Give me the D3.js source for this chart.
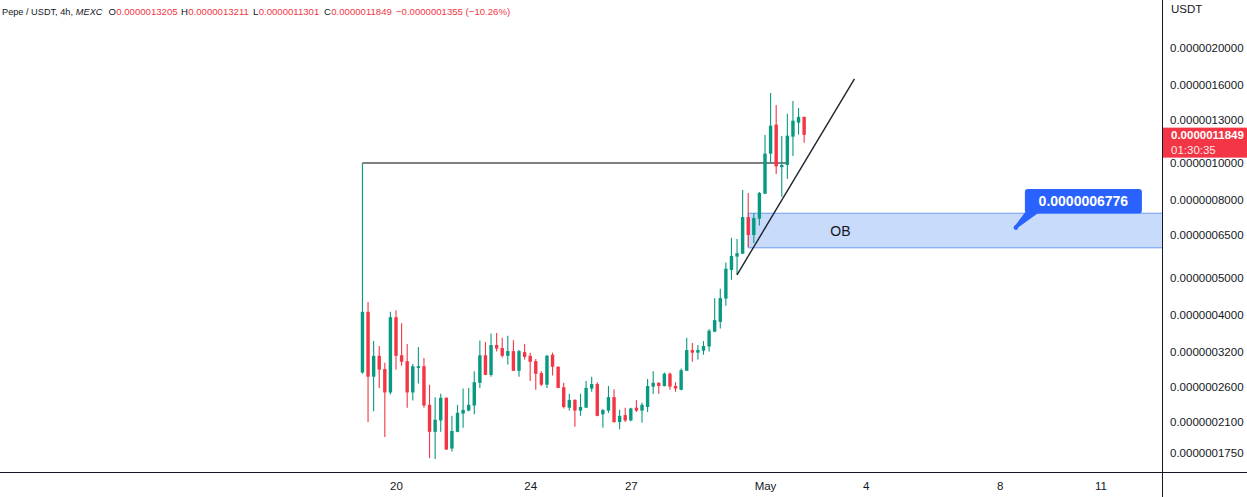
<!DOCTYPE html>
<html><head><meta charset="utf-8">
<script src="https://cdn.jsdelivr.net/npm/d3@7"></script>
<style>
html,body{margin:0;padding:0;background:#fff;}
svg{display:block;font-family:"Liberation Sans",Arial,sans-serif;}
</style>
</head><body>
<svg id="chart" width="1247" height="497"></svg>
<script>
// ---- data (Pepe / USDT, 4h candles, MEXC) ----
const firstCandle = "2023-04-19T00:00:00Z";
const candleHours = 4;
const opens  = [2.83e-7,4.08e-7,2.76e-7,3.13e-7,2.89e-7,2.51e-7,3.95e-7,3.14e-7,3.03e-7,2.51e-7,
                2.91e-7,2.94e-7,2.33e-7,1.98e-7,2.12e-7,2.43e-7,1.79e-7,1.98e-7,2.21e-7,2.25e-7,
                2.32e-7,2.66e-7,3.14e-7,2.79e-7,3.34e-7,3.28e-7,3.13e-7,3.22e-7,2.86e-7,3.20e-7,
                3.13e-7,3.03e-7,2.82e-7,2.63e-7,3.15e-7,2.93e-7,2.59e-7,2.29e-7,2.40e-7,2.25e-7,
                2.29e-7,2.57e-7,2.64e-7,2.20e-7,2.25e-7,2.44e-7,2.10e-7,2.19e-7,2.12e-7,2.29e-7,
                2.25e-7,2.30e-7,2.60e-7,2.66e-7,2.61e-7,2.81e-7,2.61e-7,2.55e-7,2.86e-7,3.24e-7,
                3.19e-7,3.23e-7,3.31e-7,3.62e-7,3.84e-7,4.42e-7,5.25e-7,5.69e-7,5.79e-7,7.22e-7,
                6.48e-7,7.15e-7,8.31e-7,10.58e-7,12.60e-7,9.75e-7,9.88e-7,11.72e-7,12.75e-7,13.205e-7];
const highs  = [10.0e-7,4.33e-7,3.42e-7,3.32e-7,3.00e-7,4.08e-7,4.12e-7,3.81e-7,3.36e-7,2.98e-7,
                3.30e-7,3.09e-7,2.63e-7,2.44e-7,2.49e-7,2.44e-7,2.18e-7,2.33e-7,2.57e-7,2.58e-7,
                2.85e-7,3.43e-7,3.40e-7,3.58e-7,3.59e-7,3.49e-7,3.53e-7,3.44e-7,3.24e-7,3.36e-7,
                3.19e-7,3.07e-7,2.85e-7,3.15e-7,3.19e-7,2.94e-7,2.66e-7,2.49e-7,2.41e-7,2.49e-7,
                2.69e-7,2.76e-7,2.67e-7,2.27e-7,2.61e-7,2.56e-7,2.26e-7,2.29e-7,2.29e-7,2.40e-7,
                2.36e-7,2.72e-7,2.85e-7,2.67e-7,2.83e-7,2.83e-7,2.67e-7,2.90e-7,3.49e-7,3.38e-7,
                3.34e-7,3.42e-7,3.68e-7,4.43e-7,4.69e-7,5.49e-7,6.37e-7,6.33e-7,8.50e-7,8.35e-7,
                7.40e-7,8.40e-7,11.84e-7,15.25e-7,14.18e-7,11.77e-7,13.46e-7,14.53e-7,13.93e-7,13.211e-7];
const lows   = [2.81e-7,2.10e-7,2.24e-7,2.58e-7,1.92e-7,2.48e-7,2.88e-7,2.95e-7,2.29e-7,2.39e-7,
                2.65e-7,2.29e-7,1.69e-7,1.68e-7,1.98e-7,1.775e-7,1.76e-7,1.975e-7,2.03e-7,2.24e-7,
                2.20e-7,2.58e-7,2.785e-7,2.76e-7,3.21e-7,3.10e-7,2.97e-7,2.855e-7,2.76e-7,3.06e-7,
                2.69e-7,2.55e-7,2.61e-7,2.58e-7,2.78e-7,2.575e-7,2.28e-7,2.25e-7,2.04e-7,2.18e-7,
                2.29e-7,2.52e-7,2.175e-7,2.03e-7,2.22e-7,2.09e-7,2.01e-7,2.10e-7,2.11e-7,2.23e-7,
                2.09e-7,2.23e-7,2.49e-7,2.49e-7,2.60e-7,2.55e-7,2.52e-7,2.545e-7,2.855e-7,3.02e-7,
                3.06e-7,3.15e-7,3.21e-7,3.61e-7,3.69e-7,4.23e-7,4.95e-7,5.10e-7,5.78e-7,6.03e-7,
                6.18e-7,6.86e-7,8.30e-7,10.02e-7,9.36e-7,8.16e-7,9.10e-7,10.43e-7,11.86e-7,11.301e-7];
const closes = [4.08e-7,2.76e-7,3.13e-7,2.88e-7,2.51e-7,3.95e-7,3.13e-7,3.02e-7,2.51e-7,2.94e-7,
                2.94e-7,2.32e-7,1.98e-7,2.13e-7,2.43e-7,1.78e-7,1.99e-7,2.22e-7,2.26e-7,2.33e-7,
                2.67e-7,3.14e-7,2.79e-7,3.34e-7,3.27e-7,3.13e-7,3.22e-7,2.86e-7,3.22e-7,3.11e-7,
                3.02e-7,2.81e-7,2.63e-7,3.13e-7,2.93e-7,2.58e-7,2.30e-7,2.40e-7,2.25e-7,2.30e-7,
                2.58e-7,2.64e-7,2.18e-7,2.26e-7,2.44e-7,2.10e-7,2.18e-7,2.12e-7,2.28e-7,2.25e-7,
                2.33e-7,2.61e-7,2.66e-7,2.61e-7,2.81e-7,2.60e-7,2.57e-7,2.87e-7,3.24e-7,3.19e-7,
                3.24e-7,3.32e-7,3.64e-7,3.88e-7,4.43e-7,5.29e-7,5.71e-7,5.81e-7,7.22e-7,6.48e-7,
                7.18e-7,8.35e-7,10.58e-7,12.52e-7,9.80e-7,9.88e-7,11.79e-7,12.90e-7,13.20e-7,11.849e-7];

const yTickValues = [2.0e-6,1.6e-6,1.3e-6,1.0e-6,8.0e-7,6.5e-7,5.0e-7,4.0e-7,3.2e-7,2.6e-7,2.1e-7,1.75e-7];
const xTickDates  = ["2023-04-20","2023-04-24","2023-04-27","2023-05-01","2023-05-04","2023-05-08","2023-05-11"];
const xTickLabels = ["20","24","27","May","4","8","11"];

// drawings
const hLine = {from:"2023-04-19T00:00:00Z", to:"2023-05-01T16:00:00Z", price:1.0e-6};
const trendLine = {t1:"2023-04-30T04:00:00Z", p1:5.10e-7, t2:"2023-05-03T16:00:00Z", p2:1.66e-6};
const obZone = {from:"2023-04-30T12:00:00Z", top:7.39e-7, bottom:6.00e-7, label:"OB", labelTime:"2023-05-03T06:00:00Z"};
const callout = {time:"2023-05-08T11:30:00Z", price:6.776e-7, text:"0.0000006776"};
const lastPrice = {price:1.1849e-6, text:"0.0000011849", countdown:"01:30:35"};

// legend groups: each group starts at x and its parts follow one another
const legend = [
  {x:2,   size:9.2, parts:[{t:"Pepe / USDT, 4h,\u00a0", c:"#131722"},{t:"MEXC", c:"#131722", italic:true}]},
  {x:108.5, size:9.6, parts:[{t:"O", c:"#131722"},{t:"0.0000013205", c:"#f23645"}]},
  {x:181, size:9.6, parts:[{t:"H", c:"#131722"},{t:"0.0000013211", c:"#f23645"}]},
  {x:253, size:9.6, parts:[{t:"L", c:"#131722"},{t:"0.0000011301", c:"#f23645"}]},
  {x:324, size:9.6, parts:[{t:"C", c:"#131722"},{t:"0.0000011849", c:"#f23645"}]},
  {x:396, size:9.6, parts:[{t:"\u22120.0000001355 (\u221210.26%)", c:"#f23645"}]}
];

// ---- layout ----
const W = 1247, H = 497, plotR = 1162, plotB = 472;
const GREEN = "#089981", RED = "#f23645", TXT = "#131722";

const svg = d3.select("#chart");
const x = d3.scaleUtc().domain([new Date("2023-04-20T00:00:00Z"), new Date("2023-05-01T00:00:00Z")]).range([396, 765]);
const y = d3.scaleLog().domain([1.5544e-7, 2.6697e-6]).range([plotB, 0]);

const t0 = new Date(firstCandle);
const candles = opens.map((o,i)=>({
  t: d3.utcHour.offset(t0, i*candleHours), o, h:highs[i], l:lows[i], c:closes[i]
}));

svg.append("defs").append("clipPath").attr("id","plot")
  .append("rect").attr("x",0).attr("y",0).attr("width",plotR).attr("height",plotB);

const plot = svg.append("g").attr("clip-path","url(#plot)");

// OB zone
const obTop = y(obZone.top), obBot = y(obZone.bottom), obX = x(new Date(obZone.from));
plot.append("rect").attr("x",obX).attr("y",obTop).attr("width",plotR + 10 - obX).attr("height",obBot-obTop)
  .attr("fill","#c9dbfb").attr("stroke","#6f9cf0").attr("stroke-width",1);
plot.append("text").attr("x",x(new Date(obZone.labelTime))).attr("y",(obTop+obBot)/2)
  .attr("text-anchor","middle").attr("dominant-baseline","central")
  .attr("font-size",14).attr("fill",TXT).text(obZone.label);

// horizontal line
plot.append("line")
  .attr("x1",x(new Date(hLine.from))).attr("x2",x(new Date(hLine.to)))
  .attr("y1",y(hLine.price)).attr("y2",y(hLine.price))
  .attr("stroke","#000").attr("stroke-width",1.2);

// candles
const bw = 3.4;
const cg = plot.append("g").selectAll("g").data(candles).join("g");
cg.append("line")
  .attr("x1",d=>x(d.t)).attr("x2",d=>x(d.t))
  .attr("y1",d=>y(d.h)).attr("y2",d=>y(d.l))
  .attr("stroke",d=>d.c>=d.o?GREEN:RED).attr("stroke-width",1.1);
cg.append("rect")
  .attr("x",d=>x(d.t)-bw/2).attr("width",bw)
  .attr("y",d=>y(Math.max(d.o,d.c)))
  .attr("height",d=>Math.max(1,Math.abs(y(d.o)-y(d.c))))
  .attr("fill",d=>d.c>=d.o?GREEN:RED);

// trend line
plot.append("line")
  .attr("x1",x(new Date(trendLine.t1))).attr("y1",y(trendLine.p1))
  .attr("x2",x(new Date(trendLine.t2))).attr("y2",y(trendLine.p2))
  .attr("stroke","#1e222d").attr("stroke-width",1.4);

// callout
const cx = x(new Date(callout.time)), cy = y(callout.price);
const cgp = plot.append("g");
cgp.append("path")
  .attr("d",`M${cx+9},${cy-15} L${cx+23},${cy-15} L${cx+1.5},${cy+0.3} L${cx-0.8},${cy-2} Z`)
  .attr("fill","#2962ff");
cgp.append("rect").attr("x",cx+9).attr("y",cy-38.7).attr("width",117).attr("height",24.5)
  .attr("rx",3).attr("fill","#2962ff");
cgp.append("circle").attr("cx",cx).attr("cy",cy).attr("r",2.3).attr("fill","#2962ff");
cgp.append("text").attr("x",cx+67.5).attr("y",cy-26.4).attr("text-anchor","middle")
  .attr("dominant-baseline","central").attr("font-size",14).attr("font-weight","bold")
  .attr("fill","#fff").text(callout.text);

// axes lines
svg.append("line").attr("x1",plotR+0.5).attr("x2",plotR+0.5).attr("y1",0).attr("y2",H)
  .attr("stroke",TXT).attr("stroke-width",1);
svg.append("line").attr("x1",0).attr("x2",W).attr("y1",plotB+0.5).attr("y2",plotB+0.5)
  .attr("stroke",TXT).attr("stroke-width",1);

// y axis
const yAxis = d3.axisRight(y).tickValues(yTickValues).tickFormat(d=>d.toFixed(10)).tickSize(0).tickPadding(8);
const ya = svg.append("g").attr("transform",`translate(${plotR},0)`).call(yAxis);
ya.select(".domain").remove();
ya.selectAll("text").attr("font-size",11.5).attr("fill",TXT).attr("font-family","'Liberation Sans',Arial,sans-serif");

svg.append("text").attr("x",1171).attr("y",13).attr("font-size",11.5).attr("fill",TXT).text("USDT");

// x axis
const xAxis = d3.axisBottom(x).tickValues(xTickDates.map(d=>new Date(d+"T00:00:00Z")))
  .tickFormat((d,i)=>xTickLabels[i]).tickSize(0).tickPadding(10);
const xa = svg.append("g").attr("transform",`translate(0,${plotB})`).call(xAxis);
xa.select(".domain").remove();
xa.selectAll("text").attr("font-size",11.5).attr("fill",TXT).attr("font-family","'Liberation Sans',Arial,sans-serif");

// last price label
const ly = y(lastPrice.price);
svg.append("rect").attr("x",plotR+1).attr("y",ly-7.2).attr("width",W-plotR-1).attr("height",30).attr("fill",RED);
svg.append("text").attr("x",1171).attr("y",ly+4.2).attr("font-size",11.5).attr("font-weight","bold")
  .attr("fill","#fff").text(lastPrice.text);
svg.append("text").attr("x",1171).attr("y",ly+19).attr("font-size",11.5)
  .attr("fill","#fff").attr("fill-opacity",0.9).text(lastPrice.countdown);

// legend (separate texts placed one after another at natural width)
const lg = svg.append("g");
legend.forEach(g=>{
  let cxp = g.x;
  g.parts.forEach(p=>{
    const t = lg.append("text").attr("x",cxp).attr("y",15.3).attr("font-size",g.size)
      .attr("font-style",p.italic?"italic":"normal").attr("fill",p.c).text(p.t);
    cxp += t.node().getComputedTextLength() + 0.3;
  });
});
</script>
</body></html>
